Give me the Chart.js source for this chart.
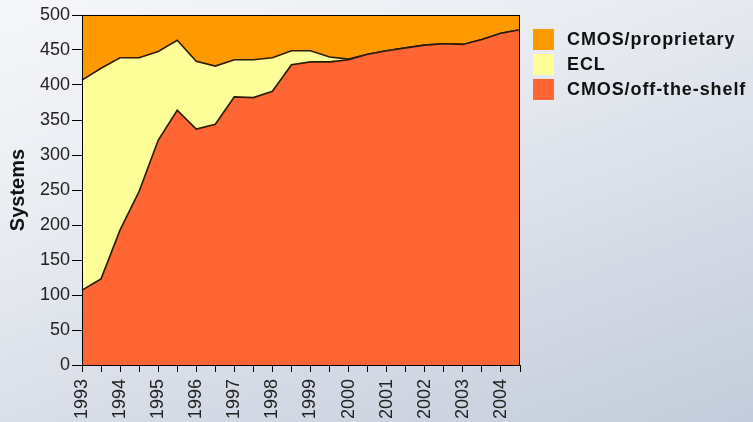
<!DOCTYPE html>
<html>
<head>
<meta charset="utf-8">
<script src="https://cdn.jsdelivr.net/npm/chart.js"></script>
<style>
  html, body { margin: 0; padding: 0; }
  body {
    width: 753px; height: 422px; overflow: hidden; position: relative;
    background: linear-gradient(160deg, #f6f7fa 0%, #e8ebf1 35%, #d4dae5 70%, #c3ccdb 100%);
    font-family: "Liberation Sans", Arial, sans-serif;
  }
  #wrap { position: absolute; left: 0; top: 0; width: 753px; height: 422px; }
  #legend { position: absolute; left: 533px; top: 27px; }
  .item { height: 25px; display: flex; align-items: center; }
  .box { width: 21px; height: 21px; margin-right: 13px; }
  .lbl { font-weight: bold; font-size: 18px; color: #111; letter-spacing: 0.9px; }
</style>
</head>
<body>
<div id="wrap"><canvas id="c" width="753" height="422"></canvas></div>
<div id="legend"></div>
<script>
// half-yearly lists, 1993 .. 2004.5
const periods = ['1993','','1994','','1995','','1996','','1997','','1998','','1999','','2000','','2001','','2002','','2003','','2004',''];
const offTheShelf = [107,123,193,248,321,364,337,344,383,382,391,429,433,433,436,444,449,453,457,459,458,465,474,479];
const ecl = [300,301,246,191,127,100,97,83,53,54,48,20,16,7,1,0,0,0,0,0,0,0,0,0];
const proprietary = [93,76,61,61,52,36,66,73,64,64,61,51,51,60,63,56,51,47,43,41,42,35,26,21];
const yTicks = [0,50,100,150,200,250,300,350,400,450,500];

const seriesNames = ['CMOS/off-the-shelf', 'ECL', 'CMOS/proprietary'];
const seriesColors = ['#ff6633', '#ffff99', '#ff9900'];

const font = "'Liberation Sans', Arial, sans-serif";

// black frame round the plot area
const frame = {
  id: 'frame',
  afterDatasetsDraw(chart) {
    const a = chart.chartArea, ctx = chart.ctx;
    ctx.save();
    ctx.strokeStyle = '#000';
    ctx.lineWidth = 1;
    ctx.strokeRect(a.left + 0.5, a.top + 0.5, a.right - a.left - 1, a.bottom - a.top);
    ctx.restore();
  }
};

function ds(i, data) {
  return {
    label: seriesNames[i],
    data: data,
    backgroundColor: seriesColors[i],
    borderColor: '#2a1a00',
    borderWidth: 1.6,
    fill: i === 0 ? 'origin' : '-1',
    pointRadius: 0,
    tension: 0
  };
}

new Chart(document.getElementById('c'), {
  type: 'line',
  data: {
    labels: periods,
    datasets: [ds(0, offTheShelf), ds(1, ecl), ds(2, proprietary)]
  },
  options: {
    responsive: false,
    animation: false,
    layout: { padding: { top: 15, right: 233, left: 0, bottom: 0 } },
    plugins: { legend: { display: false }, tooltip: { enabled: false } },
    scales: {
      x: {
        offset: false,
        grid: { drawOnChartArea: false, drawTicks: true, tickLength: 7, color: '#000' },
        border: { color: '#000' },
        ticks: {
          autoSkip: false, minRotation: 90, maxRotation: 90, padding: 7,
          color: '#222', font: { family: font, size: 18 }
        },
        afterFit(axis) { axis.height = 57; }
      },
      y: {
        stacked: true,
        min: 0, max: 500,
        afterBuildTicks(axis) { axis.ticks = yTicks.map(v => ({ value: v })); },
        grid: { drawOnChartArea: false, drawTicks: true, tickLength: 10, color: '#000' },
        border: { color: '#000' },
        ticks: { padding: 2, color: '#222', font: { family: font, size: 18 } },
        title: {
          display: true, text: 'Systems', color: '#111',
          font: { family: font, size: 20, weight: 'bold' },
          padding: { top: 6, bottom: 0 }
        },
        afterFit(axis) { axis.width = 82; }
      }
    }
  },
  plugins: [frame]
});

// legend, top entry is the top band
const legend = document.getElementById('legend');
[2, 1, 0].forEach(i => {
  const row = document.createElement('div');
  row.className = 'item';
  row.innerHTML = '<div class="box" style="background:' + seriesColors[i] + '"></div><span class="lbl">' + seriesNames[i] + '</span>';
  legend.appendChild(row);
});
</script>
</body>
</html>
